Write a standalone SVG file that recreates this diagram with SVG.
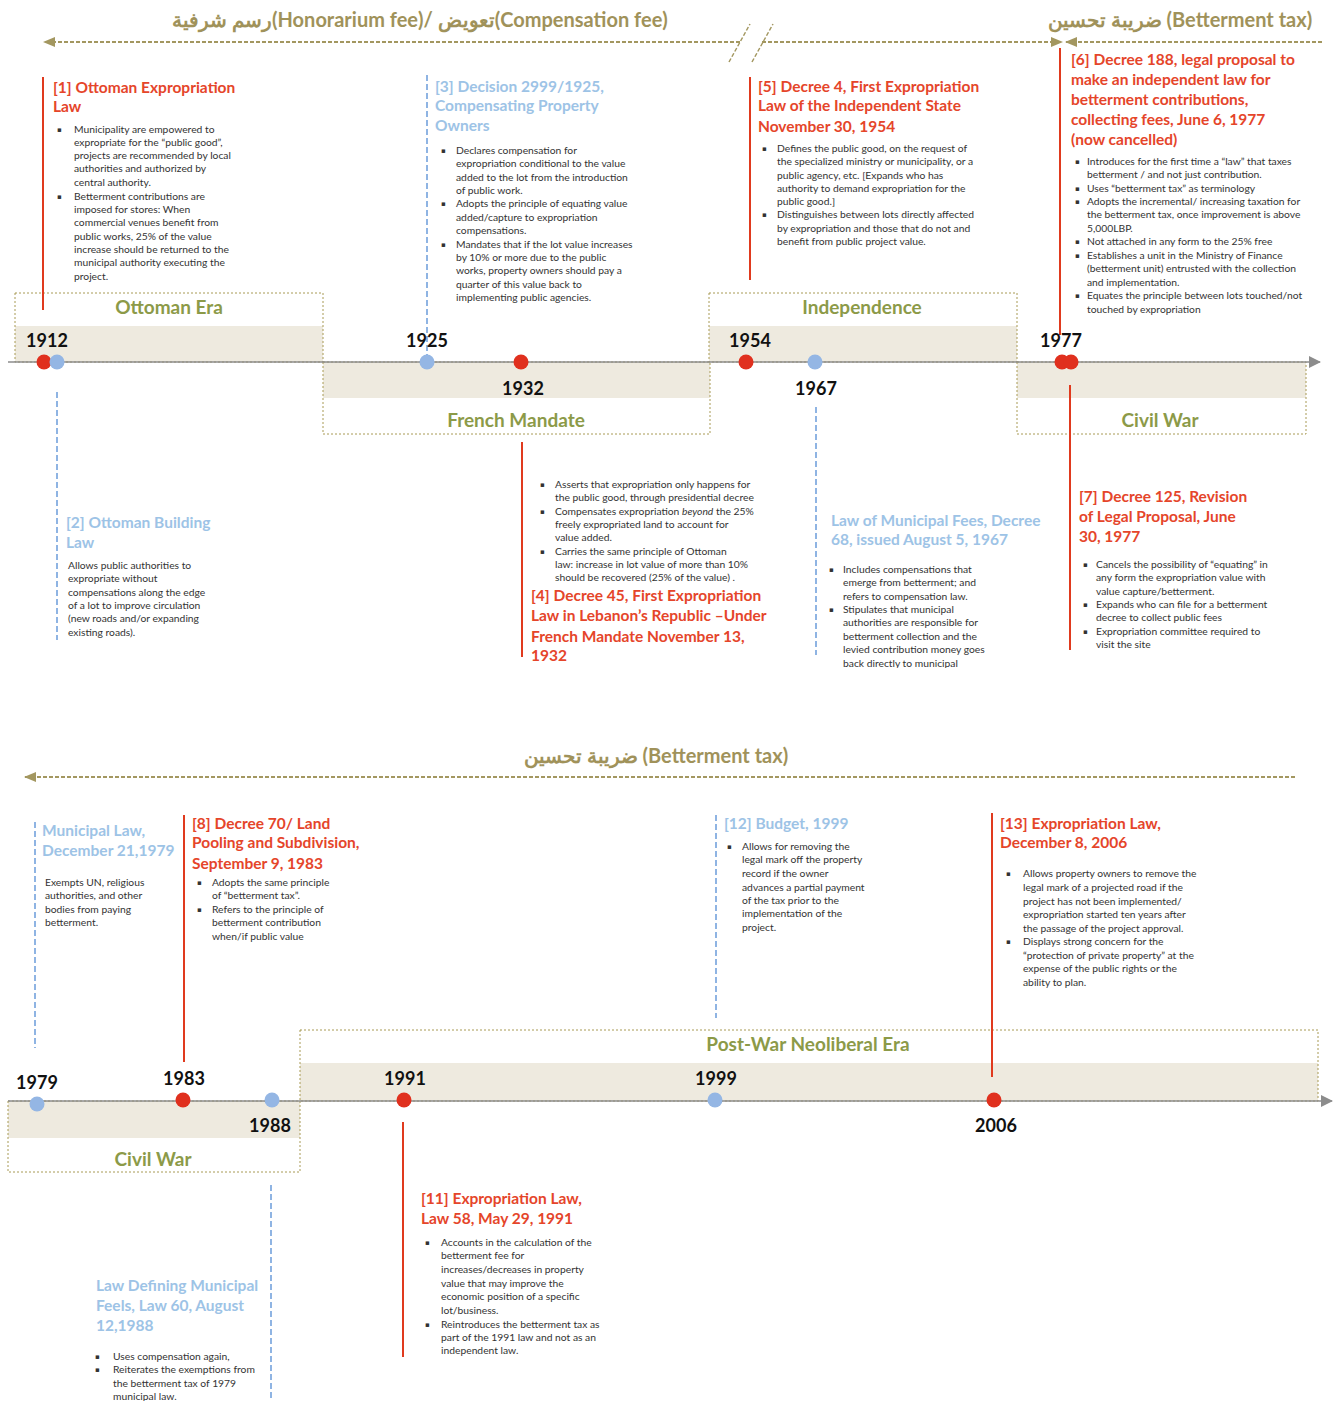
<svg xmlns="http://www.w3.org/2000/svg" width="1336" height="1401" viewBox="0 0 1336 1401">
<style>
.tr{font-family:Lato,"Liberation Sans","Noto Sans",sans-serif;font-weight:bold;font-size:15.5px;fill:#E5452A}
.tb{font-family:Lato,"Liberation Sans","Noto Sans",sans-serif;font-weight:bold;font-size:15.5px;fill:#9DC3E6}
.bd{font-family:Lato,"Liberation Sans","Noto Sans",sans-serif;font-size:10.3px;fill:#333}
.bu{font-family:"DejaVu Sans",sans-serif;font-size:7px;fill:#333}
.yr{font-family:Lato,"Liberation Sans",sans-serif;font-weight:bold;font-size:18px;fill:#111;text-anchor:middle}
.era{font-family:Lato,"Liberation Sans",sans-serif;font-weight:bold;font-size:19px;fill:#8C9A48;text-anchor:middle}
.hdr{font-family:Lato,"Liberation Sans","Noto Sans",sans-serif;font-weight:bold;font-size:20px;fill:#A0925A;text-anchor:middle}
.box{fill:none;stroke:#A89A55;stroke-width:1;stroke-dasharray:2 2}
.band{fill:#EEEADF}
.axis{stroke:#8C8C8C;stroke-width:1.5;fill:none}
.ha{stroke:#A39760;stroke-width:2;stroke-dasharray:4 2;fill:none}
.rl{stroke:#E03A1E;stroke-width:2;fill:none}
.bl{stroke:#8FB4E3;stroke-width:2;stroke-dasharray:6 3;fill:none}
.rd{fill:#E0301E}
.bdot{fill:#94B6E4}
</style>
<defs>
<marker id="ah" markerWidth="12" markerHeight="10" refX="11" refY="5" orient="auto" markerUnits="userSpaceOnUse"><path d="M0,0 L12,5 L0,10 Z" fill="#A39760"/></marker>
<marker id="ax" markerWidth="12" markerHeight="12" refX="11" refY="6" orient="auto" markerUnits="userSpaceOnUse"><path d="M0,0 L12,6 L0,12 Z" fill="#8C8C8C"/></marker>
<clipPath id="mfclip"><rect x="800" y="400" width="260" height="268"/></clipPath>
</defs>

<g id="eras-top">
<rect class="band" x="15" y="326" width="308" height="36"/>
<rect class="box" x="15" y="293" width="308" height="69"/>
<text class="era" x="169" y="314">Ottoman Era</text>
<rect class="band" x="323" y="362" width="387" height="36"/>
<rect class="box" x="323" y="362" width="387" height="72"/>
<text class="era" x="516" y="427">French Mandate</text>
<rect class="band" x="709" y="326" width="308" height="36"/>
<rect class="box" x="709" y="293" width="308" height="69"/>
<text class="era" x="862" y="314">Independence</text>
<rect class="band" x="1017" y="362" width="289" height="36"/>
<rect class="box" x="1017" y="362" width="289" height="72"/>
<text class="era" x="1160" y="427">Civil War</text>
</g>

<g id="eras-bottom">
<rect class="band" x="8" y="1101" width="292" height="37"/>
<rect class="box" x="8" y="1101" width="292" height="71"/>
<text class="era" x="153" y="1166">Civil War</text>
<rect class="band" x="300" y="1063" width="1018" height="38"/>
<rect class="box" x="300" y="1030" width="1018" height="71"/>
<text class="era" x="808" y="1051">Post-War Neoliberal Era</text>
</g>

<g id="headers">
<text class="hdr" x="420" y="27">رسم شرفية(Honorarium fee)/ تعويض(Compensation fee)</text>
<text class="hdr" x="1180" y="27">ضريبة تحسين (Betterment tax)</text>
<text class="hdr" x="656" y="763">ضريبة تحسين (Betterment tax)</text>
</g>

<g id="connectors">
<line class="ha" x1="740" y1="42" x2="44" y2="42" marker-end="url(#ah)"/>
<line class="ha" x1="762" y1="42" x2="1062" y2="42" marker-end="url(#ah)"/>
<line stroke="#A39760" stroke-width="1.5" stroke-dasharray="4 2" x1="729" y1="62" x2="750" y2="24"/>
<line stroke="#A39760" stroke-width="1.5" stroke-dasharray="4 2" x1="752" y1="62" x2="773" y2="24"/>
<line class="ha" x1="1322" y1="42" x2="1066" y2="42" marker-end="url(#ah)"/>
<line class="ha" x1="1295" y1="777" x2="25" y2="777" marker-end="url(#ah)"/>
<line class="axis" x1="8" y1="362" x2="1320" y2="362" marker-end="url(#ax)"/>
<line class="axis" x1="8" y1="1101" x2="1332" y2="1101" marker-end="url(#ax)"/>
<line class="rl" x1="43" y1="77" x2="43" y2="310"/>
<line class="bl" x1="57" y1="392" x2="57" y2="640"/>
<line class="bl" x1="427" y1="75" x2="427" y2="355"/>
<line class="rl" x1="522" y1="442" x2="522" y2="657"/>
<line class="rl" x1="750" y1="77" x2="750" y2="280"/>
<line class="bl" x1="816" y1="407" x2="816" y2="655"/>
<line class="rl" x1="1060" y1="48" x2="1060" y2="335"/>
<line class="rl" x1="1070" y1="385" x2="1070" y2="650"/>
<line class="bl" x1="35" y1="822" x2="35" y2="1048"/>
<line class="rl" x1="184" y1="815" x2="184" y2="1062"/>
<line class="bl" x1="716" y1="815" x2="716" y2="1018"/>
<line class="rl" x1="992" y1="813" x2="992" y2="1077"/>
<line class="rl" x1="403" y1="1122" x2="403" y2="1357"/>
<line class="bl" x1="271" y1="1185" x2="271" y2="1401"/>
</g>

<g id="dots-top">
<circle class="rd" cx="44" cy="362" r="7.5"/>
<circle class="bdot" cx="57" cy="362" r="7.5"/>
<circle class="bdot" cx="427" cy="362" r="7.5"/>
<circle class="rd" cx="521" cy="362" r="7.5"/>
<circle class="rd" cx="746" cy="362" r="7.5"/>
<circle class="bdot" cx="815" cy="362" r="7.5"/>
<circle class="rd" cx="1062" cy="362" r="7.5"/>
<circle class="rd" cx="1071" cy="362" r="7.5"/>
<text class="yr" x="47" y="347">1912</text>
<text class="yr" x="427" y="347">1925</text>
<text class="yr" x="523" y="395">1932</text>
<text class="yr" x="750" y="347">1954</text>
<text class="yr" x="816" y="395">1967</text>
<text class="yr" x="1061" y="347">1977</text>
</g>

<g id="dots-bottom">
<circle class="bdot" cx="37" cy="1104" r="7.5"/>
<circle class="rd" cx="183" cy="1100" r="7.5"/>
<circle class="bdot" cx="272" cy="1100" r="7.5"/>
<circle class="rd" cx="404" cy="1100" r="7.5"/>
<circle class="bdot" cx="715" cy="1100" r="7.5"/>
<circle class="rd" cx="994" cy="1100" r="7.5"/>
<text class="yr" x="37" y="1089">1979</text>
<text class="yr" x="184" y="1085">1983</text>
<text class="yr" x="270" y="1132">1988</text>
<text class="yr" x="405" y="1085">1991</text>
<text class="yr" x="716" y="1085">1999</text>
<text class="yr" x="996" y="1132">2006</text>
</g>

<g id="n1">
<text class="tr" x="53" y="93">[1] Ottoman Expropriation<tspan x="53" y="112">Law</tspan></text>
<text class="bu" x="57" y="132">▪</text><text class="bu" x="57" y="199">▪</text>
<text class="bd" x="74" y="133">Municipality are empowered to<tspan x="74" y="146">expropriate for the “public good”,</tspan><tspan x="74" y="159">projects are recommended by local</tspan><tspan x="74" y="172">authorities and authorized by</tspan><tspan x="74" y="186">central authority.</tspan><tspan x="74" y="200">Betterment contributions are</tspan><tspan x="74" y="213">imposed for stores: When</tspan><tspan x="74" y="226">commercial venues benefit from</tspan><tspan x="74" y="240">public works, 25% of the value</tspan><tspan x="74" y="253">increase should be returned to the</tspan><tspan x="74" y="266">municipal authority executing the</tspan><tspan x="74" y="280">project.</tspan></text>
</g>

<g id="n2">
<text class="tb" x="66" y="528">[2] Ottoman Building<tspan x="66" y="548">Law</tspan></text>
<text class="bd" x="68" y="569">Allows public authorities to<tspan x="68" y="582">expropriate without</tspan><tspan x="68" y="596">compensations along the edge</tspan><tspan x="68" y="609">of a lot to improve circulation</tspan><tspan x="68" y="622">(new roads and/or expanding</tspan><tspan x="68" y="636">existing roads).</tspan></text>
</g>

<g id="n3">
<text class="tb" x="435" y="92">[3] Decision 2999/1925,<tspan x="435" y="111">Compensating Property</tspan><tspan x="435" y="131">Owners</tspan></text>
<text class="bu" x="441" y="153">▪</text><text class="bu" x="441" y="206">▪</text><text class="bu" x="441" y="247">▪</text>
<text class="bd" x="456" y="154">Declares compensation for<tspan x="456" y="167">expropriation conditional to the value</tspan><tspan x="456" y="181">added to the lot from the introduction</tspan><tspan x="456" y="194">of public work.</tspan><tspan x="456" y="207">Adopts the principle of equating value</tspan><tspan x="456" y="221">added/capture to expropriation</tspan><tspan x="456" y="234">compensations.</tspan><tspan x="456" y="248">Mandates that if the lot value increases</tspan><tspan x="456" y="261">by 10% or more due to the public</tspan><tspan x="456" y="274">works, property owners should pay a</tspan><tspan x="456" y="288">quarter of this value back to</tspan><tspan x="456" y="301">implementing public agencies.</tspan></text>
</g>

<g id="n4">
<text class="bu" x="540" y="487">▪</text><text class="bu" x="540" y="514">▪</text><text class="bu" x="540" y="554">▪</text>
<text class="bd" x="555" y="488">Asserts that expropriation only happens for<tspan x="555" y="501">the public good, through presidential decree</tspan><tspan x="555" y="515">Compensates expropriation <tspan font-style="italic">beyond</tspan> the 25%</tspan><tspan x="555" y="528">freely expropriated land to account for</tspan><tspan x="555" y="541">value added.</tspan><tspan x="555" y="555">Carries the same principle of Ottoman</tspan><tspan x="555" y="568">law:  increase in lot value of more than 10%</tspan><tspan x="555" y="581">should be recovered (25% of the value) .</tspan></text>
<text class="tr" x="531" y="601">[4] Decree 45, First Expropriation<tspan x="531" y="621">Law in Lebanon’s Republic –Under</tspan><tspan x="531" y="642">French Mandate November 13,</tspan><tspan x="531" y="661">1932</tspan></text>
</g>

<g id="n5">
<text class="tr" x="758" y="92">[5] Decree 4, First Expropriation<tspan x="758" y="111">Law of the Independent State</tspan><tspan x="758" y="132">November 30, 1954</tspan></text>
<text class="bu" x="762" y="151">▪</text><text class="bu" x="762" y="217">▪</text>
<text class="bd" x="777" y="152">Defines the public good, on the request of<tspan x="777" y="165">the specialized ministry or municipality, or a</tspan><tspan x="777" y="179">public agency, etc. [Expands who has</tspan><tspan x="777" y="192">authority to demand expropriation for the</tspan><tspan x="777" y="205">public good.]</tspan><tspan x="777" y="218">Distinguishes between lots directly affected</tspan><tspan x="777" y="232">by expropriation and those that do not and</tspan><tspan x="777" y="245">benefit from public project value.</tspan></text>
</g>

<g id="n-mf">
<text class="tb" x="831" y="526">Law of Municipal Fees, Decree<tspan x="831" y="545">68, issued August 5, 1967</tspan></text>
<text class="bu" x="829" y="572">▪</text><text class="bu" x="829" y="612">▪</text>
<text class="bd" x="843" y="573" clip-path="url(#mfclip)">Includes compensations that<tspan x="843" y="586">emerge from betterment; and</tspan><tspan x="843" y="600">refers to compensation law.</tspan><tspan x="843" y="613">Stipulates that municipal</tspan><tspan x="843" y="626">authorities are responsible for</tspan><tspan x="843" y="640">betterment collection and the</tspan><tspan x="843" y="653">levied contribution money goes</tspan><tspan x="843" y="667">back directly to municipal</tspan></text>
</g>

<g id="n6">
<text class="tr" x="1071" y="65">[6] Decree 188, legal proposal to<tspan x="1071" y="85">make an independent law for</tspan><tspan x="1071" y="105">betterment contributions,</tspan><tspan x="1071" y="125">collecting fees, June 6, 1977</tspan><tspan x="1071" y="145">(now cancelled)</tspan></text>
<text class="bu" x="1075" y="164">▪</text><text class="bu" x="1075" y="191">▪</text><text class="bu" x="1075" y="204">▪</text><text class="bu" x="1075" y="244">▪</text><text class="bu" x="1075" y="258">▪</text><text class="bu" x="1075" y="298">▪</text>
<text class="bd" x="1087" y="165">Introduces for the first time a “law” that taxes<tspan x="1087" y="178">betterment / and not just contribution.</tspan><tspan x="1087" y="192">Uses “betterment tax” as terminology</tspan><tspan x="1087" y="205">Adopts the incremental/ increasing taxation for</tspan><tspan x="1087" y="218">the betterment tax, once improvement is above</tspan><tspan x="1087" y="232">5,000LBP.</tspan><tspan x="1087" y="245">Not attached in any form to the 25% free</tspan><tspan x="1087" y="259">Establishes a unit in the Ministry of Finance</tspan><tspan x="1087" y="272">(betterment unit) entrusted with the collection</tspan><tspan x="1087" y="286">and implementation.</tspan><tspan x="1087" y="299">Equates the principle between lots touched/not</tspan><tspan x="1087" y="313">touched by expropriation</tspan></text>
</g>

<g id="n7">
<text class="tr" x="1079" y="502">[7]  Decree 125, Revision<tspan x="1079" y="522">of Legal Proposal, June</tspan><tspan x="1079" y="542">30, 1977</tspan></text>
<text class="bu" x="1083" y="567">▪</text><text class="bu" x="1083" y="607">▪</text><text class="bu" x="1083" y="634">▪</text>
<text class="bd" x="1096" y="568">Cancels the possibility of “equating” in<tspan x="1096" y="581">any form the expropriation value with</tspan><tspan x="1096" y="595">value capture/betterment.</tspan><tspan x="1096" y="608">Expands who can file for a betterment</tspan><tspan x="1096" y="621">decree to collect public fees</tspan><tspan x="1096" y="635">Expropriation committee required to</tspan><tspan x="1096" y="648">visit the site</tspan></text>
</g>

<g id="n-ml">
<text class="tb" x="42" y="836">Municipal Law,<tspan x="42" y="856">December 21,1979</tspan></text>
<text class="bd" x="45" y="886">Exempts UN, religious<tspan x="45" y="899">authorities, and other</tspan><tspan x="45" y="913">bodies from paying</tspan><tspan x="45" y="926">betterment.</tspan></text>
</g>

<g id="n8">
<text class="tr" x="192" y="829">[8] Decree 70/ Land<tspan x="192" y="848">Pooling and Subdivision,</tspan><tspan x="192" y="869">September 9, 1983</tspan></text>
<text class="bu" x="197" y="885">▪</text><text class="bu" x="197" y="912">▪</text>
<text class="bd" x="212" y="886">Adopts the same principle<tspan x="212" y="899">of “betterment tax”.</tspan><tspan x="212" y="913">Refers to the principle of</tspan><tspan x="212" y="926">betterment contribution</tspan><tspan x="212" y="940">when/if public value</tspan></text>
</g>

<g id="n-l60">
<text class="tb" x="96" y="1291">Law Defining Municipal<tspan x="96" y="1311">Feels, Law 60, August</tspan><tspan x="96" y="1331">12,1988</tspan></text>
<text class="bu" x="95" y="1359">▪</text><text class="bu" x="95" y="1372">▪</text>
<text class="bd" x="113" y="1360">Uses compensation again,<tspan x="113" y="1373">Reiterates the exemptions from</tspan><tspan x="113" y="1387">the betterment tax of 1979</tspan><tspan x="113" y="1400">municipal law.</tspan></text>
</g>

<g id="n11">
<text class="tr" x="421" y="1204">[11] Expropriation Law,<tspan x="421" y="1224">Law 58, May 29, 1991</tspan></text>
<text class="bu" x="425" y="1245">▪</text><text class="bu" x="425" y="1327">▪</text>
<text class="bd" x="441" y="1246">Accounts in the calculation of the<tspan x="441" y="1259">betterment fee for</tspan><tspan x="441" y="1273">increases/decreases in property</tspan><tspan x="441" y="1287">value that may improve the</tspan><tspan x="441" y="1300">economic position of a specific</tspan><tspan x="441" y="1314">lot/business.</tspan><tspan x="441" y="1328">Reintroduces the betterment tax as</tspan><tspan x="441" y="1341">part of the 1991 law and not as an</tspan><tspan x="441" y="1354">independent law.</tspan></text>
</g>

<g id="n12">
<text class="tb" x="724" y="829">[12] Budget, 1999</text>
<text class="bu" x="727" y="849">▪</text>
<text class="bd" x="742" y="850">Allows for removing the<tspan x="742" y="863">legal mark off the property</tspan><tspan x="742" y="877">record if the owner</tspan><tspan x="742" y="891">advances a partial payment</tspan><tspan x="742" y="904">of the tax prior to the</tspan><tspan x="742" y="917">implementation of the</tspan><tspan x="742" y="931">project.</tspan></text>
</g>

<g id="n13">
<text class="tr" x="1000" y="829">[13] Expropriation Law,<tspan x="1000" y="848">December 8, 2006</tspan></text>
<text class="bu" x="1006" y="876">▪</text><text class="bu" x="1006" y="944">▪</text>
<text class="bd" x="1023" y="877">Allows property owners to remove the<tspan x="1023" y="891">legal mark of a projected road if the</tspan><tspan x="1023" y="905">project has not been implemented/</tspan><tspan x="1023" y="918">expropriation started ten years after</tspan><tspan x="1023" y="932">the passage of the project approval.</tspan><tspan x="1023" y="945">Displays strong concern for the</tspan><tspan x="1023" y="959">“protection of private property” at the</tspan><tspan x="1023" y="972">expense of the public rights or the</tspan><tspan x="1023" y="986">ability to plan.</tspan></text>
</g>
</svg>
